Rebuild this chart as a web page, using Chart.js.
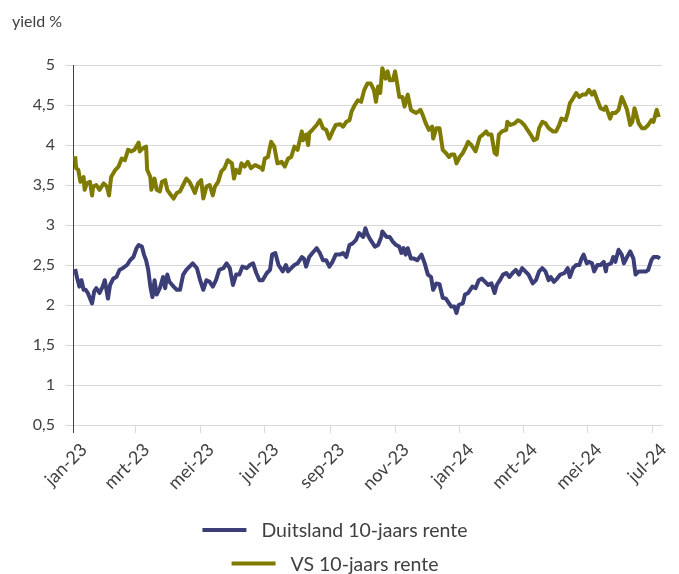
<!DOCTYPE html>
<html><head><meta charset="utf-8">
<script src="https://cdn.jsdelivr.net/npm/chart.js@4.4.1/dist/chart.umd.min.js"></script>
<style>html,body{margin:0;padding:0;background:#fff;}#wrap{width:679px;height:574px;position:relative;}</style>
</head><body><div id="wrap"><canvas id="c"></canvas></div>
<script>
// x values: days since 1 Jan 2023
const tickDates = ['2023-01-01','2023-03-01','2023-05-01','2023-07-01','2023-09-01','2023-11-01','2024-01-01','2024-03-01','2024-05-01','2024-07-01'];
const tickLabels = ['jan-23','mrt-23','mei-23','jul-23','sep-23','nov-23','jan-24','mrt-24','mei-24','jul-24'];
const seriesNames = ['Duitsland 10-jaars rente','VS 10-jaars rente'];
const axisTitle = 'yield %';

const deDays = [2,4,6,8,10,12,14,18,20,22,25,28,30,33,35,38,41,44,47,51,54,57,60,62,65,67,69,71,73,75,77,79,82,85,87,89,91,95,98,101,104,107,110,113,117,120,123,126,129,132,135,138,142,145,148,151,154,157,160,164,167,170,173,176,179,183,186,188,191,194,198,201,203,206,209,212,216,218,220,223,226,230,233,236,239,242,245,248,252,255,258,261,264,267,270,274,276,278,281,285,288,291,292,296,299,302,305,308,310,312,314,316,319,322,325,329,332,335,338,340,343,346,349,352,354,357,360,362,364,368,370,373,377,380,383,386,389,392,395,398,400,403,406,409,412,415,418,421,424,427,430,434,437,440,443,446,449,451,454,457,460,464,467,469,472,475,478,480,482,485,487,490,492,495,498,501,503,504,508,510,512,515,518,520,523,526,529,531,534,537,541,543,546,548,552,554];
const deYield = [2.45,2.33,2.23,2.31,2.19,2.19,2.15,2.02,2.17,2.21,2.15,2.23,2.31,2.08,2.25,2.33,2.35,2.44,2.46,2.50,2.56,2.60,2.71,2.75,2.73,2.63,2.56,2.44,2.23,2.10,2.31,2.13,2.21,2.35,2.21,2.38,2.29,2.23,2.19,2.19,2.38,2.44,2.48,2.52,2.46,2.31,2.19,2.31,2.29,2.23,2.31,2.44,2.46,2.52,2.46,2.25,2.38,2.38,2.48,2.46,2.50,2.52,2.40,2.31,2.31,2.40,2.44,2.63,2.65,2.50,2.42,2.50,2.42,2.46,2.50,2.52,2.60,2.58,2.48,2.60,2.65,2.71,2.65,2.56,2.56,2.48,2.54,2.63,2.63,2.65,2.60,2.75,2.77,2.81,2.90,2.85,2.96,2.88,2.81,2.73,2.75,2.85,2.92,2.85,2.85,2.79,2.75,2.73,2.65,2.71,2.63,2.71,2.58,2.58,2.56,2.63,2.52,2.38,2.35,2.19,2.27,2.26,2.09,2.08,2.04,1.98,1.98,1.90,2.00,2.02,2.13,2.15,2.23,2.21,2.31,2.33,2.29,2.25,2.27,2.15,2.25,2.31,2.38,2.40,2.35,2.40,2.44,2.38,2.46,2.42,2.38,2.27,2.31,2.42,2.46,2.42,2.31,2.35,2.29,2.33,2.38,2.40,2.46,2.35,2.46,2.50,2.50,2.58,2.63,2.52,2.54,2.52,2.42,2.50,2.50,2.54,2.42,2.50,2.52,2.60,2.54,2.69,2.63,2.52,2.60,2.67,2.58,2.38,2.42,2.42,2.42,2.44,2.56,2.60,2.60,2.58];

const usDays = [2,3,5,7,10,11,13,16,18,19,22,25,29,32,34,36,40,43,46,49,52,55,58,62,63,66,69,70,73,74,77,79,82,84,87,89,91,95,98,101,104,107,110,113,115,118,121,123,126,129,132,134,137,140,143,146,150,152,154,157,159,162,165,168,172,175,178,179,181,184,187,190,193,197,200,203,206,209,212,216,217,220,222,223,226,230,233,236,239,242,245,248,252,255,258,261,263,266,269,272,275,278,281,284,286,288,290,292,295,297,299,302,304,306,308,311,313,316,319,321,324,328,330,333,336,339,340,343,346,349,352,355,357,360,362,365,368,371,373,376,380,384,387,390,392,395,398,400,402,405,409,410,413,417,420,423,426,429,432,435,438,440,443,446,449,453,456,459,461,465,467,469,471,475,478,481,484,487,490,492,495,498,501,503,507,509,512,515,518,520,523,526,528,530,531,534,537,540,543,546,548,551,553];
const usYield = [3.86,3.71,3.69,3.54,3.60,3.44,3.52,3.54,3.37,3.48,3.50,3.44,3.52,3.48,3.37,3.60,3.69,3.73,3.83,3.81,3.94,3.92,3.94,4.03,3.92,3.96,3.98,3.69,3.60,3.44,3.58,3.44,3.42,3.54,3.56,3.44,3.40,3.33,3.40,3.42,3.50,3.58,3.54,3.46,3.40,3.52,3.56,3.33,3.48,3.50,3.37,3.48,3.54,3.67,3.71,3.81,3.77,3.58,3.69,3.65,3.77,3.73,3.79,3.71,3.75,3.73,3.71,3.69,3.83,3.85,4.04,3.98,3.77,3.79,3.73,3.83,3.85,3.98,3.94,4.17,4.06,4.13,4.00,4.15,4.19,4.25,4.31,4.21,4.19,4.08,4.17,4.25,4.26,4.23,4.29,4.31,4.42,4.50,4.56,4.54,4.69,4.77,4.77,4.69,4.54,4.73,4.65,4.96,4.83,4.92,4.81,4.81,4.92,4.77,4.60,4.60,4.48,4.63,4.44,4.42,4.40,4.44,4.38,4.27,4.19,4.23,4.08,4.21,4.21,3.94,3.90,3.85,3.88,3.88,3.77,3.85,3.90,3.98,4.04,4.00,3.92,4.10,4.13,4.17,4.13,4.13,3.90,3.88,4.13,4.17,4.19,4.29,4.25,4.27,4.31,4.29,4.25,4.19,4.13,4.06,4.08,4.21,4.29,4.27,4.21,4.17,4.17,4.25,4.33,4.31,4.40,4.52,4.56,4.65,4.60,4.63,4.63,4.69,4.63,4.67,4.56,4.46,4.44,4.48,4.33,4.40,4.40,4.44,4.60,4.54,4.44,4.25,4.29,4.46,4.42,4.27,4.21,4.21,4.25,4.31,4.29,4.44,4.35];

const base = Date.UTC(2023,0,1);
const tickDays = tickDates.map(d => Math.round((Date.parse(d + 'T00:00:00Z') - base) / 86400000));
const toPts = (xs, ys) => xs.map((x, i) => ({x, y: ys[i]}));

const DE_COLOR = '#3c3e78';
const US_COLOR = '#7f7a00';
const TXT = '#404040';
const FONT = 'Lato';

const extras = {
  id: 'extras',
  afterDraw(chart) {
    const ctx = chart.ctx;
    ctx.save();
    ctx.fillStyle = TXT;
    ctx.font = '16px ' + FONT;
    ctx.textAlign = 'left';
    ctx.textBaseline = 'alphabetic';
    ctx.fillText(axisTitle, 12, 27);
    ctx.font = '19.5px ' + FONT;
    ctx.textBaseline = 'middle';
    const cx = 335, lineLen = 44, gap = 15;
    chart.data.datasets.forEach((ds, i) => {
      const y = 530 + i * 33.5;
      const w = lineLen + gap + ctx.measureText(ds.label).width;
      const x0 = cx - w / 2;
      ctx.strokeStyle = ds.borderColor;
      ctx.lineWidth = 4;
      ctx.beginPath();
      ctx.moveTo(x0, y);
      ctx.lineTo(x0 + lineLen, y);
      ctx.stroke();
      ctx.fillStyle = TXT;
      ctx.fillText(ds.label, x0 + lineLen + gap, y + 1);
    });
    ctx.restore();
  }
};

new Chart(document.getElementById('c'), {
  type: 'line',
  data: {
    datasets: [
      {label: seriesNames[0], data: toPts(deDays, deYield), borderColor: DE_COLOR, backgroundColor: DE_COLOR, borderWidth: 4, pointRadius: 0, tension: 0, borderJoinStyle: 'round'},
      {label: seriesNames[1], data: toPts(usDays, usYield), borderColor: US_COLOR, backgroundColor: US_COLOR, borderWidth: 4, pointRadius: 0, tension: 0, borderJoinStyle: 'round'}
    ]
  },
  options: {
    responsive: true,
    maintainAspectRatio: false,
    animation: false,
    devicePixelRatio: 1,
    layout: {padding: {top: 65, right: 17, bottom: 0, left: 0}},
    plugins: {legend: {display: false}, tooltip: {enabled: false}},
    scales: {
      x: {
        type: 'linear', min: 0, max: 556,
        afterBuildTicks: s => { s.ticks = tickDays.map(v => ({value: v})); },
        afterFit: s => { s.height = 149; },
        ticks: {
          autoSkip: false, minRotation: 45, maxRotation: 45, labelOffset: 11, padding: 6,
          font: {family: FONT, size: 18}, color: TXT,
          callback: (v, i) => tickLabels[i]
        },
        grid: {drawOnChartArea: false, drawTicks: true, tickLength: 8, color: '#d9d9d9',
               tickColor: c => c.index === 0 ? '#404040' : '#d9d9d9'},
        border: {display: true, color: '#d9d9d9'}
      },
      y: {
        min: 0.5, max: 5,
        afterFit: s => { s.width = 73; },
        ticks: {
          stepSize: 0.5, padding: 10,
          font: {family: FONT, size: 16}, color: TXT,
          callback: v => String(v).replace('.', ',')
        },
        grid: {color: '#d9d9d9', tickLength: 8, drawTicks: true},
        border: {display: true, color: '#404040', width: 1}
      }
    }
  },
  plugins: [extras]
});
</script></body></html>
